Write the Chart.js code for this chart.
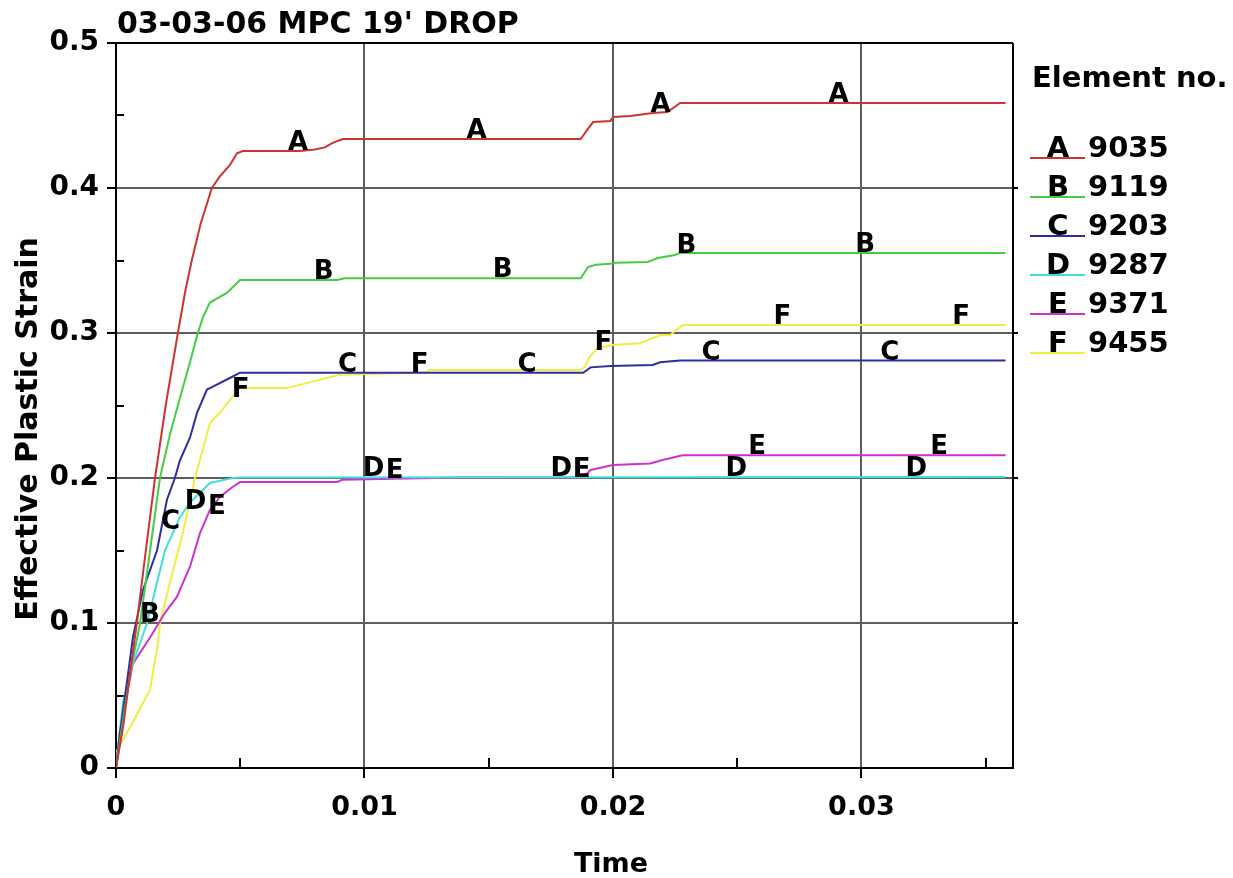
<!DOCTYPE html>
<html>
<head>
<meta charset="utf-8">
<script src="https://cdn.jsdelivr.net/npm/chart.js@4/dist/chart.umd.min.js"></script>
<style>
  html, body { margin: 0; padding: 0; background: #ffffff; }
  #wrap { width: 1233px; height: 878px; }
</style>
</head>
<body>
<div id="wrap"><canvas id="c" width="1233" height="878"></canvas></div>
<script>
// ---- text ----
const chartTitle = "03-03-06 MPC 19' DROP";
const xAxisTitle = 'Time';
const yAxisTitle = 'Effective Plastic Strain';
const legendTitle = 'Element no.';

// ---- series identity ----
const seriesKeys = ['A', 'B', 'C', 'D', 'E', 'F'];
const elementNumbers = ['9035', '9119', '9203', '9287', '9371', '9455'];
const seriesColors = ['#cc3333', '#44cc44', '#2e2e9e', '#44dddd', '#cc33cc', '#eeee44'];

// ---- axis ticks ----
const xTickLabels = ['0', '0.01', '0.02', '0.03'];
const yTickLabels = ['0', '0.1', '0.2', '0.3', '0.4', '0.5'];
const xMinorTicks = [0.005, 0.015, 0.025, 0.035];
const yMinorTicks = [0.05, 0.15, 0.25, 0.35, 0.45];

// ---- time histories (time, effective plastic strain) ----
const timeA = [0, 0.0003, 0.0006, 0.00084, 0.0012, 0.00157, 0.0020, 0.00249, 0.0028, 0.00305, 0.0034, 0.00386, 0.00418, 0.00459, 0.00487, 0.0051, 0.0074, 0.0080, 0.0084, 0.0087, 0.00913, 0.0187, 0.0190, 0.0192, 0.0199, 0.0200, 0.0207, 0.0216, 0.0222, 0.0227, 0.0358];
const strainA = [0, 0.03, 0.07, 0.1, 0.15, 0.2, 0.25, 0.3, 0.33, 0.35, 0.375, 0.4, 0.408, 0.416, 0.424, 0.4255, 0.4255, 0.4265, 0.428, 0.431, 0.4338, 0.4338, 0.441, 0.4455, 0.4462, 0.449, 0.4497, 0.4517, 0.4524, 0.4586, 0.4586];

const timeB = [0, 0.0003, 0.0006, 0.00097, 0.00137, 0.00177, 0.00217, 0.00257, 0.00298, 0.00326, 0.0035, 0.00378, 0.00446, 0.00499, 0.0089, 0.0092, 0.0187, 0.0190, 0.0193, 0.0199, 0.0201, 0.0214, 0.0218, 0.0225, 0.0227, 0.0358];
const strainB = [0, 0.035, 0.068, 0.1, 0.15, 0.2, 0.23, 0.255, 0.28, 0.298, 0.311, 0.321, 0.3276, 0.3366, 0.3366, 0.3378, 0.3378, 0.3455, 0.347, 0.3478, 0.3485, 0.349, 0.3517, 0.3538, 0.3552, 0.3552];

const timeC = [0, 0.00016, 0.00044, 0.00068, 0.00109, 0.00165, 0.00205, 0.00237, 0.00257, 0.00298, 0.00326, 0.00366, 0.00378, 0.0047, 0.00499, 0.0188, 0.0191, 0.0199, 0.0216, 0.0219, 0.0227, 0.0358];
const strainC = [0, 0.024, 0.059, 0.09, 0.123, 0.15, 0.185, 0.2, 0.212, 0.228, 0.245, 0.261, 0.262, 0.27, 0.2726, 0.2726, 0.2763, 0.2772, 0.278, 0.2798, 0.281, 0.281];

const timeD = [0, 0.00028, 0.00064, 0.00125, 0.00197, 0.00257, 0.00298, 0.00378, 0.0047, 0.0050, 0.0358];
const strainD = [0, 0.045, 0.07, 0.1, 0.15, 0.173, 0.183, 0.1966, 0.2, 0.2003, 0.2007];

const timeE = [0, 0.00016, 0.00068, 0.00137, 0.00197, 0.00245, 0.00298, 0.00338, 0.00378, 0.00418, 0.0047, 0.00499, 0.0089, 0.0091, 0.0138, 0.0188, 0.0191, 0.0200, 0.0215, 0.0220, 0.0228, 0.0358];
const strainE = [0, 0.026, 0.072, 0.09, 0.107, 0.118, 0.139, 0.162, 0.178, 0.187, 0.194, 0.1972, 0.1972, 0.1988, 0.2003, 0.2003, 0.2055, 0.209, 0.21, 0.2124, 0.2157, 0.2157];

const timeF = [0, 0.00004, 0.00056, 0.00109, 0.00137, 0.00169, 0.00177, 0.00217, 0.00269, 0.00318, 0.00378, 0.00418, 0.0049, 0.00499, 0.00688, 0.0090, 0.0125, 0.0126, 0.0187, 0.01886, 0.01906, 0.01935, 0.0200, 0.0211, 0.0219, 0.0223, 0.0227, 0.0228, 0.0358];
const strainF = [0.004, 0.012, 0.028, 0.045, 0.054, 0.086, 0.1, 0.128, 0.162, 0.2, 0.238, 0.245, 0.2607, 0.262, 0.262, 0.2712, 0.2728, 0.2745, 0.2745, 0.2766, 0.2834, 0.2893, 0.2917, 0.293, 0.2986, 0.2986, 0.304, 0.3055, 0.3055];

// times at which each curve carries its identifying letter
const markTimesA = [0.00692, 0.01411, 0.02151, 0.02867];
const markTimesB = [0.00097, 0.00796, 0.01516, 0.02256, 0.02975];
const markTimesC = [0.00181, 0.00893, 0.01616, 0.02356, 0.03076];
const markTimesD = [0.00277, 0.00993, 0.01749, 0.02453, 0.03177];
const markTimesE = [0.0037, 0.01086, 0.01838, 0.02545, 0.03277];
const markTimesF = [0.00466, 0.01186, 0.01926, 0.02646, 0.03366];

const seriesTimes = [timeA, timeB, timeC, timeD, timeE, timeF];
const seriesStrains = [strainA, strainB, strainC, strainD, strainE, strainF];
const seriesMarkTimes = [markTimesA, markTimesB, markTimesC, markTimesD, markTimesE, markTimesF];

const FONT = "'DejaVu Sans', 'Liberation Sans', sans-serif";

function strainAt(times, strains, t) {
  if (t <= times[0]) return strains[0];
  for (let i = 1; i < times.length; i++) {
    if (t <= times[i]) {
      const f = (t - times[i - 1]) / (times[i] - times[i - 1]);
      return strains[i - 1] + f * (strains[i] - strains[i - 1]);
    }
  }
  return strains[strains.length - 1];
}

const datasets = seriesKeys.map((key, i) => ({
  label: key + ' ' + elementNumbers[i],
  data: seriesTimes[i].map((t, j) => ({ x: t, y: seriesStrains[i][j] })),
  borderColor: seriesColors[i],
  backgroundColor: seriesColors[i],
  borderWidth: 2,
  pointRadius: 0,
  tension: 0,
  fill: false
}));

const decorations = {
  id: 'decorations',
  beforeDatasetsDraw(chart) {
    const ctx = chart.ctx;
    const a = chart.chartArea;
    const xs = chart.scales.x, ys = chart.scales.y;
    ctx.save();
    ctx.strokeStyle = '#000';
    ctx.lineWidth = 2;
    // top and right edges of the frame
    ctx.beginPath();
    ctx.moveTo(a.left, a.top); ctx.lineTo(a.right, a.top);
    ctx.moveTo(a.right, a.top); ctx.lineTo(a.right, a.bottom);
    ctx.stroke();
    // minor ticks, pointing into the plot
    ctx.beginPath();
    xMinorTicks.forEach(v => {
      const px = Math.round(xs.getPixelForValue(v));
      ctx.moveTo(px, a.bottom); ctx.lineTo(px, a.bottom - 10);
    });
    yMinorTicks.forEach(v => {
      const py = Math.round(ys.getPixelForValue(v));
      ctx.moveTo(a.left, py); ctx.lineTo(a.left + 8, py);
    });
    // short outer ticks on the right edge
    [0.1, 0.2, 0.3, 0.4].forEach(v => {
      const py = Math.round(ys.getPixelForValue(v));
      ctx.moveTo(a.right, py); ctx.lineTo(a.right + 5, py);
    });
    ctx.stroke();
    ctx.restore();
  },
  afterDatasetsDraw(chart) {
    const ctx = chart.ctx;
    const xs = chart.scales.x, ys = chart.scales.y;
    ctx.save();
    ctx.fillStyle = '#000';
    ctx.font = 'bold 26px ' + FONT;
    ctx.textAlign = 'left';
    ctx.textBaseline = 'alphabetic';
    seriesKeys.forEach((key, i) => {
      seriesMarkTimes[i].forEach(t => {
        const v = strainAt(seriesTimes[i], seriesStrains[i], t);
        ctx.fillText(key, xs.getPixelForValue(t), ys.getPixelForValue(v) - 1);
      });
    });
    ctx.restore();
  },
  afterDraw(chart) {
    const ctx = chart.ctx;
    ctx.save();
    ctx.fillStyle = '#000';
    ctx.textBaseline = 'alphabetic';
    // heading
    ctx.font = 'bold 30px ' + FONT;
    ctx.textAlign = 'left';
    ctx.fillText(chartTitle, 117, 33);
    // axis titles
    ctx.font = 'bold 27px ' + FONT;
    ctx.textAlign = 'center';
    ctx.fillText(xAxisTitle, 611, 872);
    ctx.save();
    ctx.translate(37, 429);
    ctx.rotate(-Math.PI / 2);
    ctx.font = 'bold 30px ' + FONT;
    ctx.fillText(yAxisTitle, 0, 0);
    ctx.restore();
    // key
    ctx.font = 'bold 29px ' + FONT;
    ctx.textAlign = 'left';
    ctx.fillText(legendTitle, 1032, 87);
    seriesKeys.forEach((key, i) => {
      const base = 157 + i * 39;
      ctx.strokeStyle = seriesColors[i];
      ctx.lineWidth = 2;
      ctx.beginPath();
      ctx.moveTo(1030, base + 1); ctx.lineTo(1085, base + 1);
      ctx.stroke();
      ctx.textAlign = 'center';
      ctx.fillText(key, 1058, base);
      ctx.textAlign = 'left';
      ctx.fillText(elementNumbers[i], 1088, base);
    });
    ctx.restore();
  }
};

Chart.defaults.font.family = FONT;

new Chart(document.getElementById('c'), {
  type: 'line',
  data: { datasets },
  options: {
    responsive: false,
    animation: false,
    devicePixelRatio: 1,
    layout: { padding: { left: 0, right: 220, top: 43, bottom: 0 } },
    plugins: { legend: { display: false }, title: { display: false }, tooltip: { enabled: false } },
    scales: {
      x: {
        type: 'linear',
        min: 0,
        max: 0.0361,
        afterFit(scale) { scale.height = 110; },
        border: { display: true, color: '#000', width: 2 },
        grid: {
          color: ctx => (ctx.tick && ctx.tick.value === 0) ? '#000' : '#5e5e5e',
          lineWidth: 2,
          tickColor: '#000',
          tickLength: 10,
          drawTicks: true
        },
        ticks: {
          stepSize: 0.01,
          includeBounds: false,
          maxRotation: 0,
          padding: 14,
          color: '#000',
          font: { size: 27, weight: 'bold' },
          callback: (v, i) => xTickLabels[i]
        }
      },
      y: {
        type: 'linear',
        min: 0,
        max: 0.5,
        afterFit(scale) { scale.width = 116; },
        border: { display: true, color: '#000', width: 2 },
        grid: {
          color: ctx => (ctx.tick && (ctx.tick.value === 0 || ctx.tick.value === 0.5)) ? '#000' : '#5e5e5e',
          lineWidth: 2,
          tickColor: '#000',
          tickLength: 9,
          drawTicks: true
        },
        ticks: {
          stepSize: 0.1,
          padding: 8,
          color: '#000',
          font: { size: 28, weight: 'bold' },
          callback: (v, i) => yTickLabels[i]
        }
      }
    }
  },
  plugins: [decorations]
});
</script>
</body>
</html>
